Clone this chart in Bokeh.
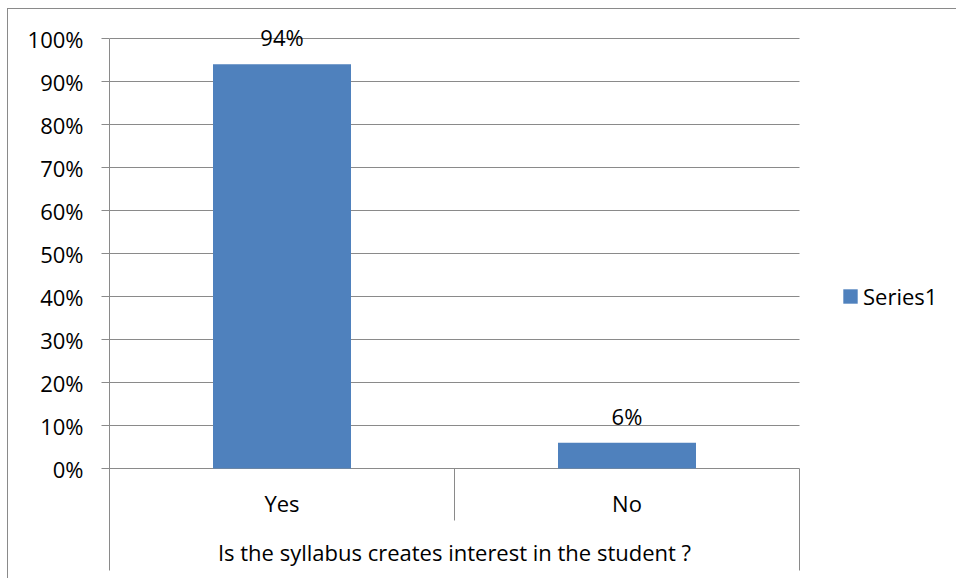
import math
from bokeh.plotting import figure
from bokeh.models import Range1d, FixedTicker, PrintfTickFormatter, Legend, LegendItem
from bokeh.core.properties import value
from bokeh.embed import file_html
from bokeh.resources import INLINE

# ---- data ----
categories = ["Yes", "No"]
percentages = [94, 6]
data_labels = ["94%", "6%"]
y_ticks = [0, 10, 20, 30, 40, 50, 60, 70, 80, 90, 100]
group_label = "Is the syllabus creates interest in the student ?"
series_name = "Series1"

# ---- style ----
FONT = "Open Sans"
FONT_SIZE = "22px"
BAR_COLOR = "#4F81BD"
LINE_COLOR = "#8a8a8a"

# ---- layout (pixels, canvas coordinates) ----
W, H = 949, 570
FRAME_LEFT, FRAME_TOP = 101, 11
PLOT_RIGHT, FRAME_BOTTOM = 792, 561
ZERO_Y = 459            # canvas pixel row of the 0% line
PX_PER_UNIT = 4.3
n = len(categories)
px_per_cat = (PLOT_RIGHT - 1 - FRAME_LEFT) / n

y_top = (ZERO_Y - FRAME_TOP) / PX_PER_UNIT
y_bottom = -(FRAME_BOTTOM - ZERO_Y) / PX_PER_UNIT
x_end = (W - FRAME_LEFT) / px_per_cat

x_centers = [i + 0.5 for i in range(n)]
inner_bounds = [i for i in range(1, n)]

p = figure(width=W, height=H,
           x_range=Range1d(0, x_end), y_range=Range1d(y_bottom, y_top),
           x_axis_location=None,
           output_backend="svg", toolbar_location=None,
           min_border_left=FRAME_LEFT, min_border_top=FRAME_TOP,
           min_border_right=0, min_border_bottom=H - FRAME_BOTTOM)
p.outline_line_color = None
p.background_fill_color = "white"
p.border_fill_color = "white"
p.styles = {"margin-left": "7px", "margin-top": "8px",
            "border-left": "1px solid " + LINE_COLOR, "border-top": "1px solid " + LINE_COLOR}

ax = p.yaxis[0]
ax.ticker = FixedTicker(ticks=y_ticks, minor_ticks=[])
ax.formatter = PrintfTickFormatter(format="%d%%")
ax.bounds = (y_bottom, y_ticks[-1])
ax.axis_line_color = LINE_COLOR
ax.major_tick_line_color = LINE_COLOR
ax.major_tick_out = 8
ax.major_tick_in = 0
ax.minor_tick_out = 0
ax.minor_tick_in = 0
ax.major_label_standoff = 18
ax.major_label_text_font = FONT
ax.major_label_text_font_size = FONT_SIZE
ax.major_label_text_color = "black"

p.xgrid.visible = False
p.ygrid.visible = False
# horizontal gridlines limited to the category span
p.segment(x0=[0] * len(y_ticks), x1=[n] * len(y_ticks), y0=y_ticks, y1=y_ticks,
          line_color=LINE_COLOR, line_width=1)

bars = p.vbar(x=x_centers, top=percentages, width=0.4, fill_color=BAR_COLOR, line_color=None)

text_style = dict(text_align="center", text_baseline="middle", text_font=value(FONT),
                  text_font_size=FONT_SIZE, text_color="black")
p.text(x=x_centers, y=percentages, text=data_labels, y_offset=-27, **text_style)
p.text(x=x_centers, y=[0] * n, text=categories, y_offset=34, **text_style)
p.text(x=[n / 2], y=[0], text=[group_label], y_offset=83, **text_style)

# category separators (multi-level axis look)
p.ray(x=inner_bounds, y=[0] * len(inner_bounds), length=52, length_units="screen",
      angle=-math.pi / 2, line_color=LINE_COLOR, line_width=1)
p.ray(x=[n], y=[0], length=110, length_units="screen",
      angle=-math.pi / 2, line_color=LINE_COLOR, line_width=1)

legend = Legend(items=[LegendItem(label=series_name, renderers=[bars])],
                location=(732, 259), glyph_width=18, glyph_height=18,
                label_standoff=4, padding=0, margin=0, spacing=0,
                border_line_color=None, background_fill_alpha=0,
                label_text_font=FONT, label_text_font_size=FONT_SIZE,
                label_text_color="black")
p.add_layout(legend, "center")

open("out.html", "w").write(file_html(p, INLINE))
